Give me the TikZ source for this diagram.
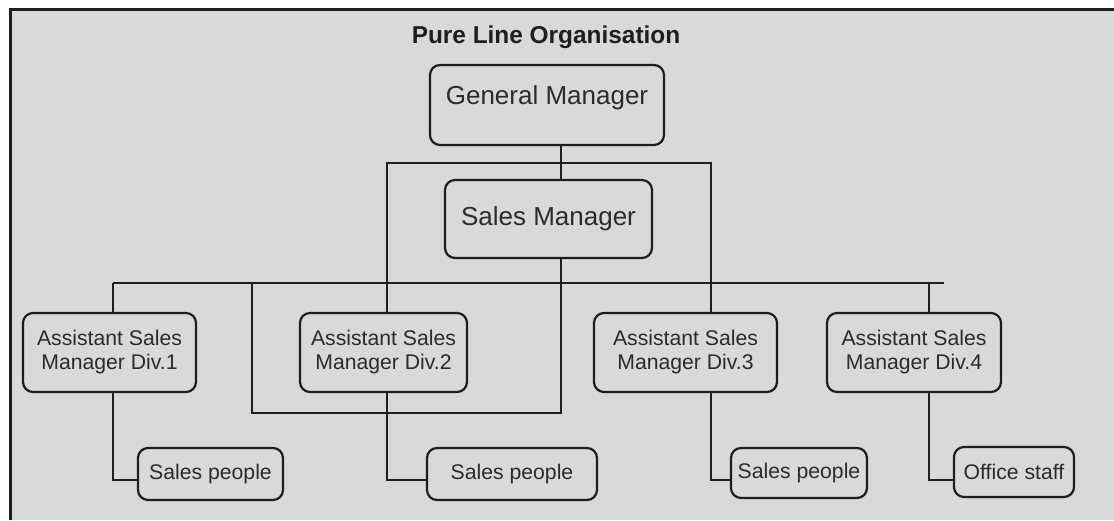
\documentclass[tikz,border=0pt]{standalone}
\usepackage{fontspec}
\setmainfont{Liberation Sans}
\usepackage{tikz}
\usetikzlibrary{shapes.geometric, arrows}
\definecolor{bggrey}{HTML}{D9D9D9}
\definecolor{ink}{HTML}{1E1E1E}
\definecolor{textgrey}{HTML}{2B2B2B}
\tikzstyle{post} = [rectangle, rounded corners=5pt, draw=ink, line width=1.1pt, fill=bggrey, text=textgrey, inner sep=0pt, align=center]
\tikzstyle{head} = [post, font=\fontsize{13}{15}\selectfont]
\tikzstyle{asst} = [post, font=\fontsize{10.6}{12}\selectfont, minimum height=39.5pt]
\tikzstyle{staff} = [post, font=\fontsize{10.6}{12}\selectfont]
\tikzstyle{link} = [draw=ink, line width=1pt]

\begin{document}
\begin{tikzpicture}[x=0.5pt, y=-0.5pt]
        \useasboundingbox (0,0) rectangle (1114,520);
        \fill[bggrey] (10,9) rectangle (1114,520);
        \draw[ink, line width=1.5pt] (10,520) -- (10,9) -- (1114,9);

        \node (title) at (546,37) [font=\bfseries\fontsize{12.2}{14}\selectfont, text=ink] {Pure Line Organisation};
        \node (gm) at (547,105) [head, minimum width=117pt, minimum height=40pt, text depth=9.5pt] {General Manager};
        \node (sm) at (548.5,219) [head, minimum width=103.5pt, minimum height=39pt] {Sales Manager};
        \node (asm1) at (109.5,352.5) [asst, minimum width=86.5pt] {Assistant Sales\\Manager Div.1};
        \node (asm2) at (383.5,352.5) [asst, minimum width=83.5pt] {Assistant Sales\\Manager Div.2};
        \node (asm3) at (685.5,352.5) [asst, minimum width=91.5pt] {Assistant Sales\\Manager Div.3};
        \node (asm4) at (914,352.5) [asst, minimum width=87pt] {Assistant Sales\\Manager Div.4};
        \node (sp1) at (210.5,474) [staff, minimum width=72.5pt, minimum height=26pt] {Sales people};
        \node (sp2) at (512,474) [staff, minimum width=85pt, minimum height=26pt] {Sales people};
        \node (sp3) at (799,473) [staff, minimum width=68pt, minimum height=25pt] {Sales people};
        \node (office) at (1014,472) [staff, minimum width=60pt, minimum height=25pt] {Office staff};

        \coordinate (gmfoot) at (561,163);
        \coordinate (topL) at (387,163);
        \coordinate (topR) at (711,163);
        \coordinate (barL) at (113,283);
        \coordinate (barR) at (944,283);
        \coordinate (bar4) at (929,283);
        \coordinate (loopL) at (252,283);
        \coordinate (loopR) at (561,413);

        \draw [link] (gm.south -| gmfoot) -- (gmfoot);
        \draw [link] (gmfoot) -- (sm.north -| gmfoot);
        \draw [link] (asm2.north -| topL) -- (topL) -- (topR) -- (asm3.north -| topR);
        \draw [link] (barL) -- (barR);
        \draw [link] (barL) -- (asm1.north -| barL);
        \draw [link] (bar4) -- (asm4.north -| bar4);
        \draw [link] (loopL) |- (loopR) -- (sm.south -| loopR);
        \draw [link] (asm1.south -| barL) |- ([yshift=-3pt]sp1.west);
        \draw [link] (asm2.south -| topL) |- ([yshift=-3pt]sp2.west);
        \draw [link] (asm3.south -| topR) |- ([yshift=-3.5pt]sp3.west);
        \draw [link] (asm4.south -| bar4) |- ([yshift=-4pt]office.west);
    \end{tikzpicture}
\end{document}
